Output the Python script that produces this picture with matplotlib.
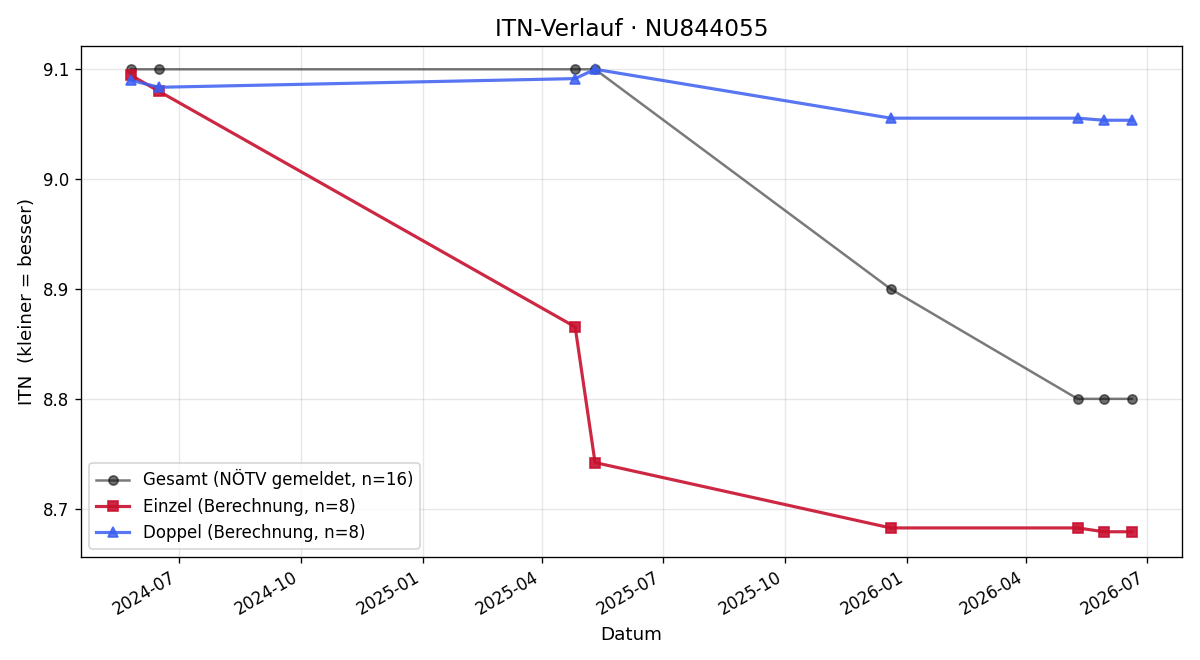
import matplotlib
matplotlib.use("Agg")
import matplotlib.pyplot as plt
import matplotlib.dates as mdates
import pandas as pd

# Spieltermine
dates = pd.to_datetime([
    "2024-05-26", "2024-06-16", "2025-04-26", "2025-05-11",
    "2025-12-20", "2026-05-10", "2026-05-30", "2026-06-20",
])

# ITN-Werte
itn_gesamt = [9.1, 9.1, 9.1, 9.1, 8.9, 8.8, 8.8, 8.8]
itn_einzel = [9.0945, 9.080, 8.8655, 8.742, 8.6825, 8.6825, 8.679, 8.679]
itn_doppel = [9.090, 9.0836, 9.0915, 9.100, 9.0555, 9.0555, 9.0536, 9.0536]

fig, ax = plt.subplots(figsize=(10, 5.5), dpi=120)

ax.plot(dates, itn_gesamt, color='#222222', alpha=0.6, marker='o', markersize=5.5,
        markerfacecolor='#111111', markeredgecolor='#111111',
        linewidth=1.5, label='Gesamt (NÖTV gemeldet, n=16)')
ax.plot(dates, itn_einzel, color='#c8102e', alpha=0.9, marker='s', markersize=6.5,
        linewidth=1.9, label='Einzel (Berechnung, n=8)')
ax.plot(dates, itn_doppel, color='#3b5ef0', alpha=0.85, marker='^', markersize=6.5,
        linewidth=1.9, label='Doppel (Berechnung, n=8)')

ax.set_title('ITN-Verlauf · NU844055', fontsize=14)
ax.set_xlabel('Datum', fontsize=11)
ax.set_ylabel('ITN  (kleiner = besser)', fontsize=11)
ax.set_ylim(8.656, 9.121)
ax.grid(True, alpha=0.3)
ax.legend(loc='lower left', fontsize=10)

ax.xaxis.set_major_locator(mdates.MonthLocator(bymonth=[1, 4, 7, 10]))
ax.xaxis.set_major_formatter(mdates.DateFormatter('%Y-%m'))
ax.tick_params(labelsize=10)
fig.autofmt_xdate()

fig.subplots_adjust(left=0.0675, right=0.985, top=0.93, bottom=0.156)
fig.savefig('out.png')
